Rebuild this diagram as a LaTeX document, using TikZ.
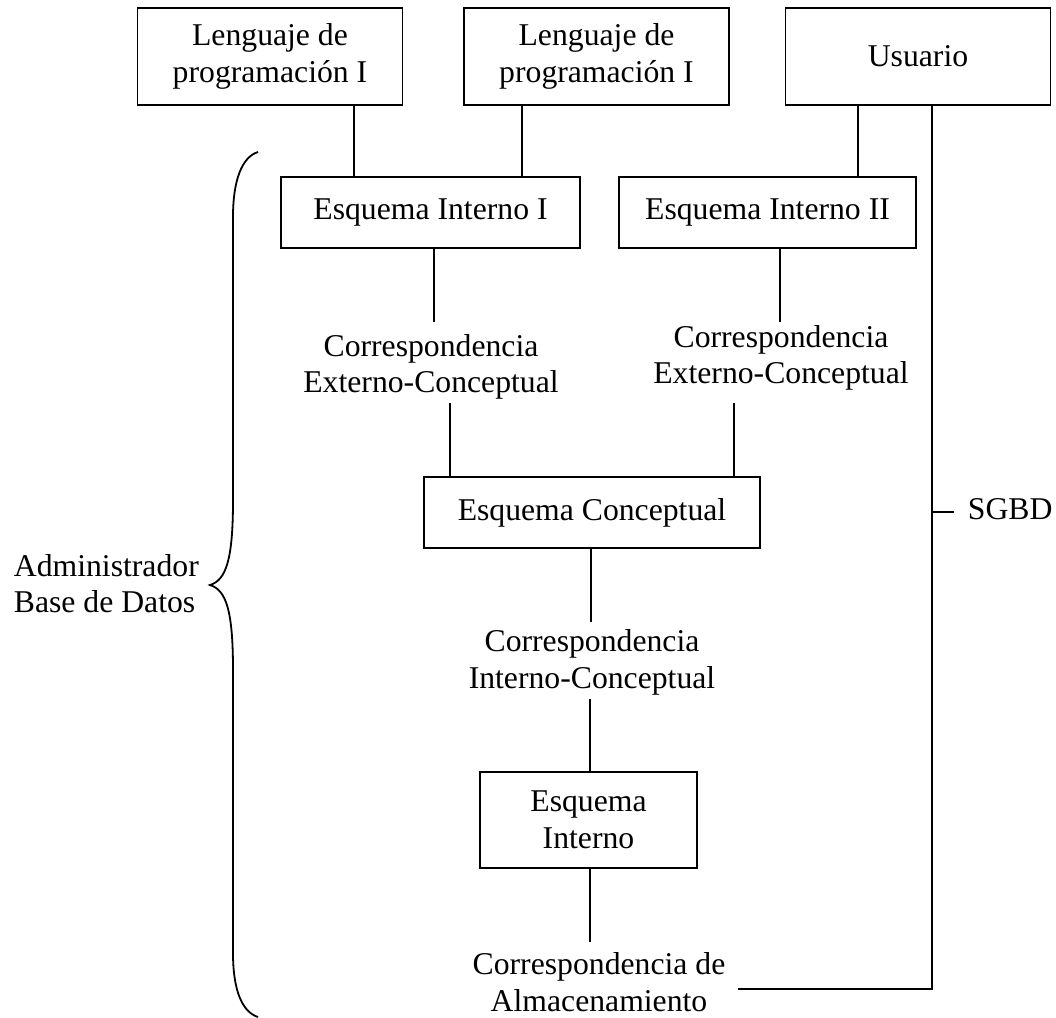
\documentclass[tikz,border=0pt]{standalone}
\usepackage{fontspec}
\setmainfont{Liberation Serif}
\usetikzlibrary{calc}
\begin{document}
\begin{tikzpicture}[x=1pt,y=-1pt,line width=1.8pt,
  txt/.style={font=\fontsize{31.7}{36.6}\selectfont,inner sep=0pt,align=center},
  box/.style={txt,draw,rectangle},
  topbox/.style={box,minimum width=265pt,minimum height=97pt},
  midbox/.style={box,minimum height=71pt}]
\useasboundingbox (0,0) rectangle (1056,1017);

% upper row: programs and user
\node[topbox] (lp1) at (270,56.5) {Lenguaje de\\programación I};
\node[topbox] (lp2) at (596.5,56.5) {Lenguaje de\\programación I};
\node[topbox] (usr) at (918,56.5) {Usuario};

% external schemas
\node[midbox,minimum width=299pt] (ei1) at (430.5,212.5) {Esquema Interno I};
\node[midbox,minimum width=297pt] (ei2) at (767.5,212.5) {Esquema Interno II};

% mappings and lower schemas
\node[txt] (cec1) at (431,367) {Correspondencia\\Externo-Conceptual};
\node[txt] (cec2) at (781,357.7) {Correspondencia\\Externo-Conceptual};
\node[midbox,minimum width=336pt] (ec) at (592,512.5) {Esquema Conceptual};
\node[txt] (cic) at (592,662.6) {Correspondencia\\Interno-Conceptual};
\node[box,minimum width=217pt,minimum height=96pt] (ein) at (588.5,820) {Esquema\\Interno};
\node[txt] (calm) at (599,982) {Correspondencia de\\Almacenamiento};

% side labels
\node[txt,align=left,anchor=west] (adm) at (13,583.7) {Administrador\\Base de Datos};
\node[txt,anchor=west,inner xsep=13pt] (sgbd) at (954,509.5) {SGBD};

% x positions of the vertical links
\coordinate (xa) at (354,0);
\coordinate (xb) at (522,0);
\coordinate (xc) at (858,0);
\coordinate (xs) at (932,0);
\coordinate (xd) at (434,0);
\coordinate (xe) at (780,0);
\coordinate (xf) at (450,0);
\coordinate (xg) at (734,0);
\coordinate (xm) at (591,0);
\coordinate (xi) at (590,0);

% links from programs and user to the external schemas
\draw (lp1.south -| xa) -- (ei1.north -| xa);
\draw (lp2.south -| xb) -- (ei1.north -| xb);
\draw (usr.south -| xc) -- (ei2.north -| xc);

% stubs around the mapping labels
\draw (ei1.south -| xd) -- ++(0,73);
\draw (ei2.south -| xe) -- ++(0,73);
\draw (ec.north -| xf) -- ++(0,-73);
\draw (ec.north -| xg) -- ++(0,-73);
\draw (ec.south -| xm) -- ++(0,73);
\draw (ein.north -| xi) -- ++(0,-72);
\draw (ein.south -| xi) -- ++(0,73);

% DBMS bracket line
\coordinate (send) at (738,989);
\coordinate (tk) at (932,512);
\draw (usr.south -| xs) |- (send);
\draw (tk) -- (sgbd.west |- tk);

% administrator brace
\draw (258,152) .. controls (242,157) and (233,180) .. (233,217)
  -- (233,500) .. controls (233,560) and (226,580) .. (210,585)
  .. controls (226,590) and (233,610) .. (233,670)
  -- (233,953) .. controls (233,990) and (242,1012) .. (258,1017);
\end{tikzpicture}
\end{document}
